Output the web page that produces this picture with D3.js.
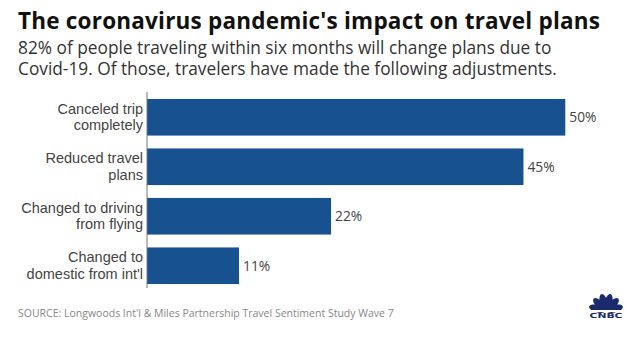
<!DOCTYPE html>
<html><head><meta charset="utf-8">
<script src="https://cdn.jsdelivr.net/npm/d3@7"></script>
<style>body{margin:0;background:#fff;} svg{display:block;}</style>
</head><body>
<script>
const categories = [["Canceled trip","completely"],["Reduced travel","plans"],["Changed to driving","from flying"],["Changed to","domestic from int'l"]];
const values = [50, 45, 22, 11];
const valueLabels = ["50%","45%","22%","11%"];
const title = "The coronavirus pandemic's impact on travel plans";
const subtitle = ["82% of people traveling within six months will change plans due to","Covid-19. Of those, travelers have made the following adjustments."];
const source = "SOURCE: Longwoods Int'l & Miles Partnership Travel Sentiment Study Wave 7";

const W=640,H=342;
const svg=d3.select("body").append("svg").attr("width",W).attr("height",H);
const font="'Open Sans', Lato, sans-serif";
const labelFont="'Liberation Sans', Arial, sans-serif";

svg.append("text").attr("x",18).attr("y",28.5).text(title)
  .attr("font-family",font).attr("font-weight",700).attr("font-size",22.5).attr("fill","#111")
  .attr("textLength",582).attr("lengthAdjust","spacing");
subtitle.forEach((s,i)=>svg.append("text").attr("x",18).attr("y",53.5+i*21.7).text(s)
  .attr("font-family",font).attr("font-size",17.3).attr("fill","#333"));

const x=d3.scaleLinear().domain([0,50]).range([147,565.3]);
const y=d3.scaleBand().domain(d3.range(values.length)).range([93,290]).paddingInner(0.26).paddingOuter(0.12);

const g=svg.append("g");
g.selectAll("rect.bar").data(values).join("rect").attr("class","bar")
  .attr("x",x(0)).attr("y",(d,i)=>y(i)).attr("width",d=>x(d)-x(0)).attr("height",y.bandwidth())
  .attr("fill","#175190");

svg.append("line").attr("x1",x(0)).attr("x2",x(0)).attr("y1",92).attr("y2",288)
  .attr("stroke","#777").attr("stroke-width",1);

categories.forEach((lines,i)=>{
  const cy=y(i)+y.bandwidth()/2;
  lines.forEach((l,j)=>svg.append("text").attr("text-anchor","end").attr("font-family",labelFont)
    .attr("font-size",14.5).attr("fill","#444").attr("x",143).attr("y",cy-3.5+j*16.3).text(l));
});

g.selectAll("text.val").data(values).join("text").attr("class","val")
  .attr("x",d=>x(d)+4).attr("y",(d,i)=>y(i)+y.bandwidth()/2+5)
  .text((d,i)=>valueLabels[i]).attr("font-family",font).attr("font-size",13.8).attr("fill","#444");

svg.append("text").attr("x",18).attr("y",316.5).text(source)
  .attr("font-family",font).attr("font-size",10.5).attr("fill","#888");

// CNBC peacock logo
const logo=svg.append("g").attr("transform","translate(606,311)");
const feathers=[-75,-45,-15,15,45,75];
feathers.forEach(a=>{
  logo.append("ellipse").attr("cx",0).attr("cy",-9).attr("rx",3.8).attr("ry",8.5)
    .attr("transform",`rotate(${a})`).attr("fill","#1b2a6b");
});
logo.append("rect").attr("x",-17).attr("y",-1).attr("width",34).attr("height",2).attr("fill","#fff");
logo.append("text").attr("x",0).attr("y",6.5).attr("text-anchor","middle").text("CNBC")
  .attr("font-family","'DejaVu Sans', sans-serif").attr("font-weight",700).attr("font-size",7).attr("fill","#1b2a6b")
  .attr("textLength",33).attr("lengthAdjust","spacingAndGlyphs");
</script>
</body></html>
